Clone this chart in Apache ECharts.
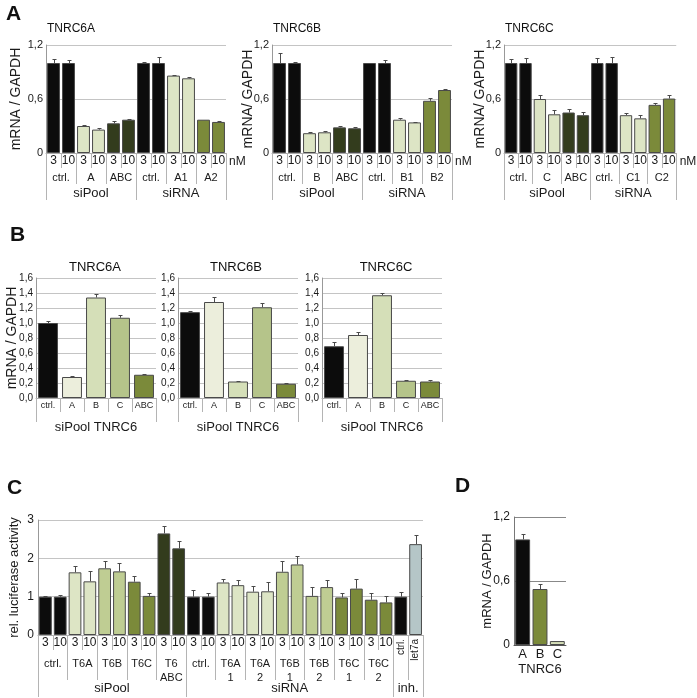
<!DOCTYPE html>
<html><head><meta charset="utf-8">
<script src="https://cdn.jsdelivr.net/npm/echarts@6/dist/echarts.min.js"></script>
<style>html,body{margin:0;padding:0;background:#fff}#c{width:697px;height:698px}</style>
</head><body><div id="c"></div>
<script>
// ================= DATA =================
// Panel A
const aDose = ['3','10','3','10','3','10','3','10','3','10','3','10'];
const aSuper = ['siPool','siRNA'];
const aGroups6A = ['ctrl.','A','ABC','ctrl.','A1','A2'];
const aGroups6B = ['ctrl.','B','ABC','ctrl.','B1','B2'];
const aGroups6C = ['ctrl.','C','ABC','ctrl.','C1','C2'];
const a6A = [1.00,1.00,0.30,0.26,0.33,0.37,1.00,1.00,0.86,0.83,0.37,0.345];
const a6AErr = [0.04,0.03,0.015,0.015,0.025,0.01,0.015,0.07,0.01,0.02,0.0,0.015];
const a6B = [1.00,1.00,0.22,0.23,0.285,0.275,1.00,1.00,0.37,0.34,0.58,0.70];
const a6BErr = [0.11,0.015,0.01,0.01,0.01,0.015,0.005,0.03,0.015,0.01,0.03,0.01];
const a6C = [1.00,1.00,0.60,0.43,0.45,0.42,1.00,1.00,0.42,0.385,0.535,0.605];
const a6CErr = [0.04,0.06,0.05,0.05,0.04,0.04,0.05,0.065,0.02,0.04,0.02,0.04];
// Panel B
const bCats = ['ctrl.','A','B','C','ABC'];
const bSuper = ['siPool TNRC6'];
const b6A = [1.00,0.28,1.34,1.07,0.31];
const b6AErr = [0.03,0.01,0.045,0.04,0.015];
const b6B = [1.145,1.28,0.22,1.21,0.19];
const b6BErr = [0.01,0.065,0.01,0.06,0.01];
const b6C = [0.69,0.84,1.37,0.23,0.22];
const b6CErr = [0.055,0.04,0.035,0.01,0.02];
// Panel C
const cDose = ['3','10','3','10','3','10','3','10','3','10','3','10','3','10','3','10','3','10','3','10','3','10','3','10','',''];
const cGroups = ['ctrl.','T6A','T6B','T6C','T6\nABC','ctrl.','T6A\n1','T6A\n2','T6B\n1','T6B\n2','T6C\n1','T6C\n2'];
const cInh = ['ctrl.','let7a'];
const cSuper = ['siPool','siRNA','inh.'];
const cSuperSpan = [10,14,2];
const cVals = [1.00,1.00,1.635,1.40,1.74,1.66,1.39,1.02,2.65,2.26,1.00,1.00,1.37,1.30,1.13,1.14,1.65,1.84,1.02,1.25,0.98,1.21,0.92,0.85,1.00,2.37];
const cErr = [0.02,0.05,0.17,0.26,0.18,0.23,0.15,0.07,0.20,0.20,0.18,0.10,0.09,0.13,0.16,0.23,0.29,0.23,0.22,0.19,0.11,0.25,0.18,0.16,0.11,0.25];
// Panel D
const dCats = ['A','B','C'];
const dSuper = ['TNRC6'];
const dVals = [0.99,0.525,0.037];
const dErr = [0.055,0.05,0];

// ================= STYLE =================
const FONT = '"Liberation Sans", Arial, Helvetica, sans-serif';
const TXT = '#1a1a1a';
const SEP = '#b4b4b4';
const PAL = {k:'#0c0c0c', l:'#dde5c5', m:'#bfcd93', o:'#7b8a3a', d:'#333c1d', p:'#eceedc', q:'#d5dfb8', r:'#b5c48a', g:'#b5c6c7'};
const aColors = ['k','k','l','l','d','d','k','k','l','l','o','o'];
const bColors = ['k','p','q','r','o'];
const cColors = ['k','k','l','l','m','m','o','o','d','d','k','k','l','l','l','l','m','m','m','m','o','o','o','o','k','g'];
const dColors = ['k','o','q'];

const fmtA = v => v === 0 ? '0' : v.toFixed(1).replace('.', ',');
const fmtB = v => v.toFixed(1).replace('.', ',');
const fmtC = v => String(v);

const option = {animation:false, textStyle:{fontFamily:FONT}, title:[], grid:[], xAxis:[], yAxis:[], series:[]};

function errRender(params, api) {
  const x = api.value(0), v = api.value(1), e = api.value(2);
  if (!e) return {type:'group', children:[]};
  const p0 = api.coord([x, v]), p1 = api.coord([x, v + e]);
  const px = Math.round(p0[0]) + 0.5, py = Math.round(p1[1]) + 0.5;
  return {type:'group', children:[
    {type:'line', shape:{x1:px, y1:p0[1], x2:px, y2:py}, style:{stroke:'#4a4a4a', lineWidth:1}},
    {type:'line', shape:{x1:px-2, y1:py, x2:px+2, y2:py}, style:{stroke:'#4a4a4a', lineWidth:1}}
  ]};
}

function levelAxis(gi, n, lv) {
  const data = new Array(2*n+1).fill('');
  const ticks = new Set();
  let s = 0;
  lv.groups.forEach(([lab, span]) => { const e = s + span; data[s+e] = lab; ticks.add(2*s); ticks.add(2*e); s = e; });
  return {gridIndex:gi, type:'category', position:'bottom', offset:0, boundaryGap:false, data:data.map((_, i) => 'h' + i),
    axisLine:{show:false}, splitLine:{show:false},
    axisTick:{show:!!lv.tick, length:lv.tick || 0, interval:(i) => ticks.has(i), lineStyle:{color:SEP}},
    axisLabel:{interval:(i) => data[i] !== '', margin:lv.margin, fontSize:lv.font, lineHeight:lv.lh || lv.font + 2,
      rotate:lv.rotate || 0, color:TXT, formatter:(v, i) => data[i]}};
}

function addChart(c) {
  const gi = option.grid.length;
  option.grid.push({left:c.left, top:c.top, width:c.width, height:c.height});
  const n = c.values.length;
  const xi = option.xAxis.length;
  option.xAxis.push({
    gridIndex:gi, type:'category', position:'bottom', offset:0, boundaryGap:true, data:c.values.map((_, i) => 'b' + i),
    axisLine:{show:true, lineStyle:{color:c.xLine || '#aaa', width:1}},
    axisTick:{show:!!c.l0.tick, interval:0, length:c.l0.tick || 0, lineStyle:{color:SEP}},
    axisLabel:{interval:0, margin:c.l0.margin, fontSize:c.l0.font, color:TXT, formatter:(v, i) => c.l0.labels[i]},
    splitLine:{show:false},
    name:c.unit || '', nameLocation:'end', nameGap:3,
    nameTextStyle:{fontSize:12, color:TXT, verticalAlign:'top', padding:[3,0,0,0]}
  });
  (c.levels || []).forEach(lv => option.xAxis.push(levelAxis(gi, n, lv)));
  const yi = option.yAxis.length;
  option.yAxis.push({gridIndex:gi, type:'value', position:'left', min:c.y.min, max:c.y.max, interval:c.y.step,
    axisLine:{show:true, lineStyle:{color:c.yLine || '#999'}}, axisTick:{show:false},
    axisLabel:{margin:c.y.margin, fontSize:c.y.font, color:TXT, formatter:c.y.fmt},
    splitLine:{show:true, lineStyle:{color:c.gridColor || '#c4c4c4'}},
    name:c.y.name || '', nameLocation:'middle', nameGap:c.y.gap || 0, nameMoveOverlap:false,
    nameTextStyle:{fontSize:c.y.nameFont || 13, color:TXT}});
  option.series.push({type:'bar', xAxisIndex:xi, yAxisIndex:yi, barWidth:c.barWidth || '86%', silent:true,
    data:c.values.map((v, i) => ({value:v, itemStyle:{color:PAL[c.colors[i]], borderColor:'#4a4a4a', borderWidth:1}}))});
  option.series.push({type:'custom', xAxisIndex:xi, yAxisIndex:yi, silent:true, z:5, renderItem:errRender,
    encode:{x:0, y:1}, data:c.values.map((v, i) => [i, v, c.errors[i]])});
}

function title(text, left, top, size, bold, align) {
  option.title.push({text, left, top, padding:0, textAlign:align || 'left',
    textStyle:{fontSize:size, fontWeight:bold ? 'bold' : 'normal', color:'#111', fontFamily:FONT}});
}

// ---- Panel A ----
title('A', 6, 4, 21, true);
const aY = (name, gap) => ({min:0, max:1.2, step:0.6, margin:3, font:11, fmt:fmtA, name, gap, nameFont:14});
const aLevels = groups => [
  {groups:groups.map(g => [g, 2]), tick:31, margin:18, font:11},
  {groups:aSuper.map(s => [s, 6]), tick:47, margin:33, font:13}
];
const aL0 = {labels:aDose, tick:15, margin:2, font:12};
[[a6A, a6AErr, aGroups6A, 46, 'TNRC6A', 'mRNA / GAPDH', 23],
 [a6B, a6BErr, aGroups6B, 272, 'TNRC6B', 'mRNA/ GAPDH', 17],
 [a6C, a6CErr, aGroups6C, 504, 'TNRC6C', 'mRNA/ GAPDH', 17]].forEach(([vals, errs, groups, left, t, yname, gap]) => {
  title(t, left + 1, 23, 12, false);
  addChart({left, top:45, width:180, height:108, values:vals, errors:errs, colors:aColors,
    l0:aL0, levels:aLevels(groups), unit:'nM', y:aY(yname, gap)});
});

// ---- Panel B ----
title('B', 10, 225, 21, true);
[[b6A, b6AErr, 36, 'TNRC6A', 95, 'mRNA / GAPDH'],
 [b6B, b6BErr, 178, 'TNRC6B', 236, ''],
 [b6C, b6CErr, 322, 'TNRC6C', 386, '']].forEach(([vals, errs, left, t, tc, yname]) => {
  title(t, tc, 261, 13, false, 'center');
  addChart({left, top:278, width:120, height:120, values:vals, errors:errs, colors:bColors, barWidth:'83%',
    l0:{labels:bCats, tick:14, margin:3, font:9},
    levels:[{groups:bSuper.map(s => [s, 5]), tick:24, margin:22, font:13}],
    y:{min:0, max:1.6, step:0.2, margin:3, font:10, fmt:fmtB, name:yname, gap:17, nameFont:14}});
});

// ---- Panel C ----
title('C', 7, 478, 21, true);
addChart({left:37, top:520, width:386, height:115, values:cVals, errors:cErr, colors:cColors,
  l0:{labels:cDose, tick:15, margin:2, font:12},
  levels:[
    {groups:cGroups.map(g => [g, 2]).concat([['', 1], ['', 1]]), tick:45, margin:22, font:11, lh:14},
    {groups:[['', 24]].concat(cInh.map(l => [l, 1])), tick:0, margin:4, font:10, rotate:90},
    {groups:cSuper.map((s, i) => [s, cSuperSpan[i]]), tick:62, margin:46, font:13}
  ],
  y:{min:0, max:3, step:1, margin:4, font:12, fmt:fmtC, name:'rel. luciferase activity', gap:17, nameFont:13}});

// ---- Panel D ----
title('D', 455, 476, 21, true);
addChart({left:514, top:517, width:52, height:128, values:dVals, errors:dErr, colors:dColors, barWidth:'86%',
  xLine:'#555', yLine:'#777', gridColor:'#888',
  l0:{labels:dCats, tick:0, margin:3, font:13},
  levels:[{groups:dSuper.map(s => [s, 3]), tick:0, margin:17, font:13}],
  y:{min:0, max:1.2, step:0.6, margin:4, font:12, fmt:fmtA, name:'mRNA / GAPDH', gap:20, nameFont:13}});

const chart = echarts.init(document.getElementById('c'), null, {renderer:'canvas'});
chart.setOption(option);
</script>
</body></html>
